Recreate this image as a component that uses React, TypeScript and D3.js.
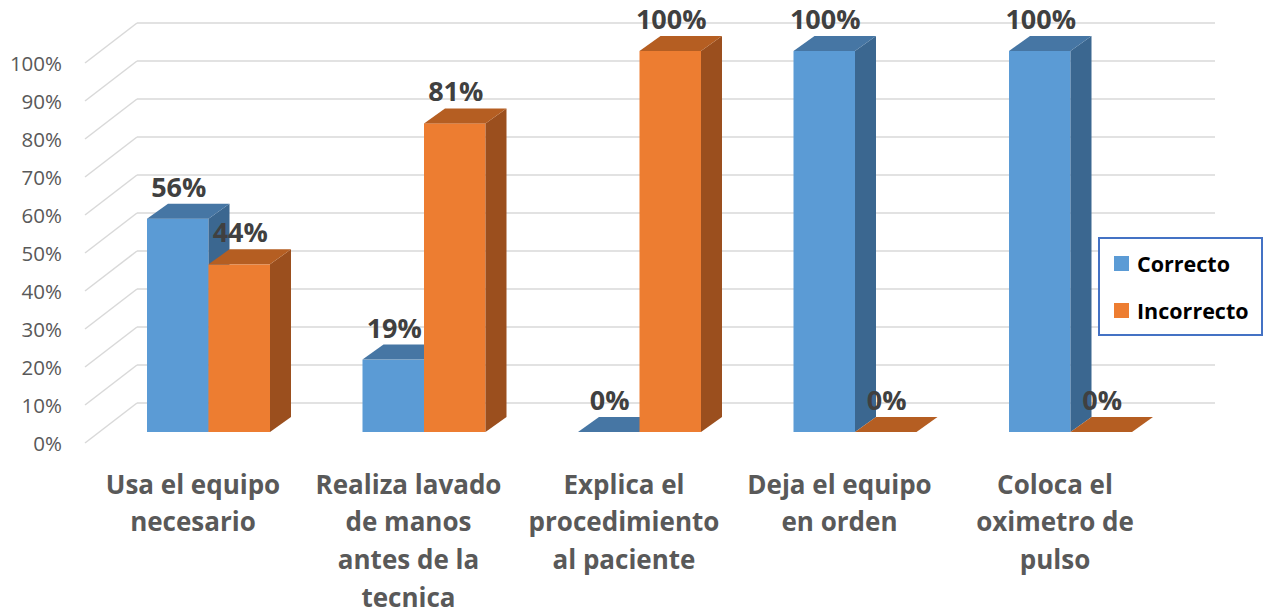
import React from "react";
import * as d3 from "d3";

const categories = [
  "Usa el equipo necesario",
  "Realiza lavado de manos antes de la tecnica",
  "Explica el procedimiento al paciente",
  "Deja el equipo en orden",
  "Coloca el oximetro de pulso",
];
const categoryLines = [
  ["Usa el equipo", "necesario"],
  ["Realiza lavado", "de manos", "antes de la", "tecnica"],
  ["Explica el", "procedimiento", "al paciente"],
  ["Deja el equipo", "en orden"],
  ["Coloca el", "oximetro de", "pulso"],
];
const seriesNames = ["Correcto", "Incorrecto"];
const correcto = [0.56, 0.19, 0, 1, 1];
const incorrecto = [0.44, 0.81, 1, 0, 0];
const yTicks = [0, 0.1, 0.2, 0.3, 0.4, 0.5, 0.6, 0.7, 0.8, 0.9, 1];

const colors = [
  { front: "#5B9BD5", side: "#3B6790", top: "#4676A4" },
  { front: "#ED7D31", side: "#9B4F1E", top: "#B55E22" },
];

const FONT = "'Open Sans', Lato, sans-serif";

export default function App() {
  const W = 1270, H = 615;
  const yFront = d3.scaleLinear().domain([0, 1]).range([443, 63]);
  const yBack = d3.scaleLinear().domain([0, 1]).range([403, 23]);
  const yBar = d3.scaleLinear().domain([0, 1]).range([432, 51]);
  const x = d3.scaleBand<string>().domain(categories).range([100.75, 1178.25]).padding(0);
  const inner = d3.scaleBand<string>().domain(seriesNames).range([0, 123]).padding(0);
  const groupOffset = (x.bandwidth() - 123) / 2;
  const dx = 21, dy = 15;
  const fmt = d3.format(".0%");
  const gridFrontX = 85, gridBackX = 137, gridRight = 1215;
  const data = [correcto, incorrecto];

  const bars: React.ReactNode[] = [];
  const labels: React.ReactNode[] = [];
  categories.forEach((c, i) => {
    seriesNames.forEach((s, k) => {
      const v = data[k][i];
      const x0 = (x(c) as number) + groupOffset + (inner(s) as number);
      const x1 = x0 + inner.bandwidth();
      const yb = yBar(0);
      const yt = yBar(v);
      const col = colors[k];
      const key = `${i}-${k}`;
      if (v > 0) {
        bars.push(
          <g key={key}>
            <rect x={x0} y={yt} width={x1 - x0} height={yb - yt} fill={col.front} />
            <polygon points={`${x1},${yt} ${x1 + dx},${yt - dy} ${x1 + dx},${yb - dy} ${x1},${yb}`} fill={col.side} />
            <polygon points={`${x0},${yt} ${x0 + dx},${yt - dy} ${x1 + dx},${yt - dy} ${x1},${yt}`} fill={col.top} />
          </g>
        );
      } else {
        bars.push(
          <polygon key={key} points={`${x0},${yb} ${x0 + dx},${yb - dy} ${x1 + dx},${yb - dy} ${x1},${yb}`} fill={col.top} />
        );
      }
      labels.push(
        <text key={"l" + key} x={(x0 + x1) / 2 + 1} y={yt - dy - 7} textAnchor="middle"
          fontFamily={FONT} fontWeight="bold" fontSize={27} fill="#404040">
          {fmt(v)}
        </text>
      );
    });
  });

  return (
    <svg width={W} height={H} style={{ position: "absolute", left: 0, top: 0 }}>
      <rect width={W} height={H} fill="#fff" />
      {yTicks.map((t) => (
        <g key={t}>
          <line x1={gridFrontX} y1={yFront(t)} x2={gridBackX} y2={yBack(t)} stroke="#D9D9D9" strokeWidth={1.5} />
          <line x1={gridBackX} y1={yBack(t)} x2={gridRight} y2={yBack(t)} stroke="#D9D9D9" strokeWidth={1.5} />
          <text x={62} y={yFront(t)} textAnchor="end" dominantBaseline="central"
            fontFamily={FONT} fontSize={20.5} fill="#595959">
            {fmt(t)}
          </text>
        </g>
      ))}
      {bars}
      {labels}
      {categories.map((c, i) => (
        <text key={c} textAnchor="middle" fontFamily={FONT} fontWeight="bold"
          fontSize={26} fill="#595959">
          {categoryLines[i].map((ln, j) => (
            <tspan key={j} x={(x(c) as number) + x.bandwidth() / 2 - 15.5} y={493.5 + j * 37.8}>{ln}</tspan>
          ))}
        </text>
      ))}
      <g>
        <rect x={1099} y={238} width={163} height={97} fill="#fff" stroke="#4472C4" strokeWidth={2} />
        {seriesNames.map((s, k) => (
          <g key={s}>
            <rect x={1114} y={256 + k * 47} width={15} height={15} fill={colors[k].front} />
            <text x={1137} y={263.5 + k * 47} dominantBaseline="central"
              fontFamily={FONT} fontWeight="bold" fontSize={21.5} fill="#000">
              {s}
            </text>
          </g>
        ))}
      </g>
    </svg>
  );
}
